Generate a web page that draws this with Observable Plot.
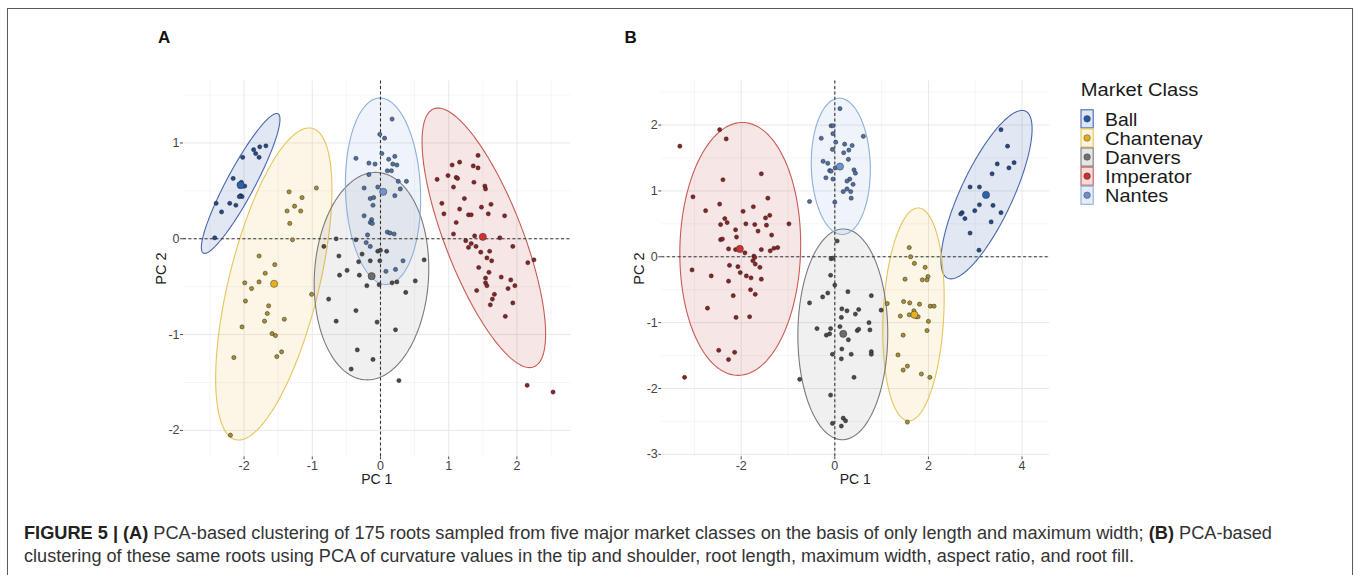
<!DOCTYPE html>
<html>
<head>
<meta charset="utf-8">
<script src="https://cdn.jsdelivr.net/npm/d3@7"></script>
<script src="https://cdn.jsdelivr.net/npm/@observablehq/plot@0.6"></script>
<style>
  html, body { margin: 0; padding: 0; background: #fff; }
  #fig { position: relative; width: 1357px; height: 575px; overflow: hidden; font-family: "Liberation Sans", Arial, sans-serif; }
  .frame { position: absolute; left: 7px; top: 8px; width: 1346px; height: 700px; border: 1.6px solid #5a5a5a; border-bottom: none; box-sizing: border-box; }
  .panel { position: absolute; top: 0; }
  .panel svg text { font-size: 12.5px !important; fill: #444 !important; }
  #overlay { position: absolute; left: 0; top: 0; }
</style>
</head>
<body>
<div id="fig">
  <div class="frame"></div>
  <div id="panelA" class="panel" style="left:100px;width:500px;height:500px"></div>
  <div id="panelB" class="panel" style="left:620px;width:450px;height:500px"></div>
  <svg id="overlay" width="1357" height="575"></svg>
</div>
<script>
// ---------------- DATA ----------------
const classes = ["Ball", "Chantenay", "Danvers", "Imperator", "Nantes"];

// Panel A (PC1 vs PC2 from length and maximum width)
const ballA = [[-1.68,0.97],[-1.77,0.96],[-1.86,0.93],[-1.83,0.89],[-1.78,0.85],[-2.02,0.85],[-2.16,0.63],[-2.07,0.57],[-2.04,0.59],[-2.02,0.55],[-1.99,0.55],[-2.05,0.45],[-2.03,0.44],[-2.07,0.44],[-2.21,0.37],[-2.12,0.35],[-2.41,0.37],[-2.33,0.28],[-2.43,0.01]];
const chantenayA = [[-1.34,0.49],[-0.94,0.53],[-1.15,0.43],[-1.26,0.34],[-1.37,0.29],[-1.17,0.29],[-1.33,0.16],[-1.29,-0.01],[-1.78,-0.18],[-1.55,-0.27],[-1.69,-0.36],[-1.78,-0.45],[-1.99,-0.46],[-1.89,-0.52],[-1.41,-0.84],[-1.98,-0.65],[-1.64,-0.70],[-1.66,-0.78],[-1.70,-0.86],[-2.03,-0.92],[-1.59,-0.99],[-1.54,-1.01],[-1.45,-1.18],[-1.52,-1.23],[-2.15,-1.24],[-1.01,-0.58],[-2.20,-2.05]];
const danversA = [[-0.65,0.00],[-0.83,-0.08],[-0.36,-0.01],[-0.27,-0.16],[-0.04,-0.13],[0.00,-0.12],[0.09,-0.13],[-0.32,-0.24],[-0.15,-0.23],[-0.01,-0.23],[0.64,-0.22],[-0.61,-0.18],[-0.49,-0.33],[-0.60,-0.38],[-0.31,-0.38],[0.17,-0.46],[0.24,-0.45],[0.51,-0.44],[-0.20,-0.49],[-0.02,-0.48],[0.37,-0.56],[-0.76,-0.63],[-0.36,-0.75],[-0.65,-0.86],[-0.05,-0.87],[0.22,-0.95],[-0.34,-1.16],[-0.11,-1.26],[-0.43,-1.36],[0.27,-1.48]];
const imperatorA = [[1.43,0.87],[1.05,0.77],[1.16,0.80],[1.36,0.76],[1.43,0.74],[0.99,0.66],[0.83,0.62],[1.11,0.64],[1.13,0.63],[1.37,0.59],[1.07,0.54],[1.53,0.55],[1.54,0.52],[1.23,0.42],[1.16,0.31],[0.90,0.37],[1.48,0.33],[1.62,0.36],[0.93,0.26],[1.29,0.25],[1.33,0.25],[1.58,0.26],[1.82,0.24],[1.11,0.17],[1.07,0.05],[1.38,0.03],[1.75,0.01],[1.25,-0.02],[1.33,-0.05],[1.29,-0.09],[1.40,-0.08],[1.94,-0.08],[1.47,-0.14],[1.60,-0.13],[1.56,-0.20],[1.63,-0.23],[2.16,-0.25],[2.25,-0.22],[1.44,-0.30],[1.59,-0.35],[1.54,-0.41],[1.77,-0.40],[1.91,-0.43],[1.97,-0.49],[1.54,-0.46],[1.56,-0.49],[1.87,-0.52],[1.41,-0.54],[1.67,-0.58],[1.64,-0.63],[1.61,-0.69],[1.94,-0.67],[1.83,-0.81],[2.15,-1.53],[2.53,-1.60]];
const nantesA = [[0.17,1.25],[-0.01,1.09],[0.06,1.05],[0.02,0.89],[0.21,0.86],[-0.36,0.84],[-0.17,0.79],[-0.08,0.78],[0.12,0.83],[0.18,0.78],[0.24,0.77],[0.10,0.71],[0.16,0.71],[-0.17,0.67],[0.26,0.60],[0.38,0.60],[-0.24,0.53],[-0.04,0.54],[0.29,0.52],[-0.15,0.42],[-0.10,0.43],[0.21,0.45],[-0.11,0.35],[-0.24,0.24],[-0.13,0.20],[-0.15,0.17],[-0.12,0.16],[0.10,0.07],[0.14,0.06],[0.20,0.05],[-0.19,0.04],[-0.21,-0.04],[-0.15,-0.08],[0.33,-0.23],[0.22,-0.32],[0.08,-0.34]];
const meansA = [[-2.05,0.56],[-1.56,-0.47],[-0.13,-0.39],[1.50,0.02],[0.04,0.49]];
// ellipse: centre, first half-axis, second half-axis (data units), order = classes
const ellCentreA = [[-2.05,0.578],[-1.564,-0.472],[-0.132,-0.39],[1.515,0.01],[0.037,0.496]];
const ellAxis1A  = [[0.547,0.727],[0.562,1.625],[0.0,1.08],[-0.733,1.347],[-0.044,0.973]];
const ellAxis2A  = [[0.181,-0.069],[0.641,-0.113],[0.84,0.08],[0.532,0.146],[0.55,0.0]];

// Panel B (PCA of curvature, length, width, aspect ratio, fill)
const ballB = [[3.55,1.93],[3.69,1.68],[3.83,1.43],[3.47,1.41],[3.72,1.35],[3.36,1.26],[3.09,1.06],[2.89,1.06],[3.09,0.79],[3.38,0.78],[2.99,0.70],[2.72,0.67],[2.69,0.65],[2.78,0.58],[3.55,0.67],[3.34,0.53],[2.89,0.36],[3.08,0.10]];
const chantenayB = [[1.59,0.14],[1.62,0.00],[1.70,-0.10],[1.93,-0.16],[1.99,-0.30],[1.97,-0.35],[1.87,-0.35],[1.50,-0.34],[1.12,-0.71],[1.47,-0.68],[1.60,-0.70],[1.81,-0.72],[2.04,-0.75],[2.12,-0.75],[1.40,-0.90],[1.59,-0.88],[1.69,-0.82],[1.74,-0.91],[1.78,-0.91],[2.00,-0.98],[1.46,-1.19],[1.97,-1.12],[1.35,-1.49],[1.55,-1.66],[1.46,-1.72],[1.85,-1.78],[2.03,-1.83],[1.55,-2.51]];
const danversB = [[0.05,0.24],[-0.08,-0.03],[-0.04,-0.02],[-0.09,-0.28],[0.00,-0.43],[0.28,-0.53],[-0.54,-0.70],[-0.26,-0.61],[-0.15,-0.55],[0.78,-0.59],[0.15,-0.79],[0.26,-0.82],[0.51,-0.80],[0.44,-0.87],[0.99,-0.81],[0.14,-0.92],[0.73,-1.00],[-0.38,-1.09],[-0.18,-1.19],[-0.11,-1.17],[-0.09,-1.09],[0.11,-1.06],[0.29,-1.26],[0.48,-1.12],[0.51,-1.10],[0.75,-1.11],[-0.05,-1.48],[0.15,-1.40],[0.14,-1.55],[0.35,-1.48],[0.78,-1.44],[0.78,-1.48],[0.41,-1.83],[-0.75,-1.86],[-0.09,-2.10],[-0.05,-2.53],[0.18,-2.45],[0.23,-2.49],[0.14,-2.57]];
const imperatorB = [[-2.46,1.93],[-2.32,1.79],[-3.31,1.68],[-1.57,1.26],[-2.39,1.17],[-3.03,0.91],[-1.43,0.89],[-2.76,0.70],[-2.46,0.80],[-1.74,0.76],[-1.96,0.69],[-1.39,0.63],[-1.48,0.59],[-2.35,0.58],[-2.30,0.52],[-2.12,0.41],[-2.44,0.49],[-1.90,0.50],[-1.71,0.49],[-1.64,0.39],[-1.46,0.48],[-0.98,0.50],[-1.35,0.33],[-2.44,0.26],[-2.40,0.27],[-2.10,0.30],[-2.27,0.12],[-2.12,0.11],[-1.92,0.06],[-1.73,0.01],[-1.71,-0.01],[-1.57,0.11],[-1.38,0.09],[-1.30,0.13],[-1.22,0.14],[-1.75,-0.06],[-1.70,-0.11],[-3.05,-0.20],[-2.64,-0.29],[-2.25,-0.13],[-2.07,-0.15],[-2.02,-0.24],[-1.89,-0.29],[-1.79,-0.32],[-1.57,-0.34],[-1.60,-0.16],[-2.27,-0.37],[-1.80,-0.50],[-1.70,-0.57],[-2.17,-0.59],[-2.72,-0.78],[-2.11,-0.92],[-1.82,-0.91],[-2.48,-1.42],[-2.14,-1.45],[-2.27,-1.56],[-3.21,-1.83]];
const nantesB = [[0.11,2.25],[-0.08,1.99],[-0.04,1.99],[-0.04,1.87],[-0.29,1.80],[0.02,1.74],[0.61,1.83],[0.21,1.71],[0.37,1.69],[0.30,1.62],[-0.05,1.63],[0.19,1.58],[-0.25,1.45],[-0.15,1.42],[0.29,1.48],[-0.11,1.31],[-0.08,1.30],[0.41,1.32],[0.44,1.27],[0.01,1.35],[-0.19,1.20],[-0.04,1.18],[0.32,1.18],[0.26,1.15],[0.39,1.10],[0.18,0.99],[0.26,1.03],[0.34,0.99],[0.35,0.89],[0.00,0.83],[-0.54,0.84]];
const meansB = [[3.23,0.94],[1.70,-0.88],[0.18,-1.17],[-2.03,0.12],[0.11,1.37]];
const ellCentreB = [[3.241,0.944],[1.681,-0.874],[0.171,-1.177],[-2.02,0.12],[0.128,1.374]];
const ellAxis1B  = [[0.833,1.268],[0.1,1.616],[0.01,1.6],[0.046,1.92],[-0.03,1.035]];
const ellAxis2B  = [[0.504,-0.167],[0.648,0.0],[0.96,0.0],[1.29,0.0],[0.63,0.0]];

// axes
const xTicksA = [-2, -1, 0, 1, 2];
const xMinorA = [-2.5, -1.5, -0.5, 0.5, 1.5, 2.5];
const yTicksA = [-2, -1, 0, 1];
const yMinorA = [-1.5, -0.5, 0.5, 1.5];
const xDomainA = [-2.888, 2.79];
const yDomainA = [-2.276, 1.646];
const xTicksB = [-2, 0, 2, 4];
const xMinorB = [-3, -1, 1, 3];
const yTicksB = [-3, -2, -1, 0, 1, 2];
const yMinorB = [-2.5, -1.5, -0.5, 0.5, 1.5, 2.5];
const xDomainB = [-3.696, 4.593];
const yDomainB = [-3.037, 2.668];
const zeroLine = [0];

const panelLabels = ["A", "B"];
const axisTitleX = "PC 1", axisTitleY = "PC 2";
const legendTitle = "Market Class";
const captionBold1 = "FIGURE 5 | (A)";
const captionText1 = " PCA-based clustering of 175 roots sampled from five major market classes on the basis of only length and maximum width; ";
const captionBold2 = "(B)";
const captionText3 = " PCA-based";
const captionLine2 = "clustering of these same roots using PCA of curvature values in the tip and shoulder, root length, maximum width, aspect ratio, and root fill.";

// ---------------- STYLE ----------------
const ptFill   = ["#23498c", "#a88f30", "#4a4a4a", "#8a2323", "#4f70a6"];
const meanFill = ["#2a62b8", "#e8b020", "#6c6c6c", "#d03030", "#6f95d0"];
const keyDot   = ["#1f5aa8", "#e3a91f", "#707070", "#c9302f", "#6f8fc8"];
const ellStroke = ["#4a68b0", "#e9c35a", "#7a7a7a", "#c75b55", "#8eaedd"];
const ellFill   = ["#3a62b0", "#e8b830", "#888888", "#c04040", "#7a9ed6"];
const ellFillOp = [0.15, 0.12, 0.13, 0.13, 0.12];
const keyFill   = ["#dfe6f3", "#fcf3dc", "#e6e6e6", "#f3dcdc", "#e6edf8"];

function ellipse(c, a, b) {
  return d3.range(0, 181).map(i => {
    const t = (i / 180) * 2 * Math.PI;
    return {x: c[0] + a[0] * Math.cos(t) + b[0] * Math.sin(t),
            y: c[1] + a[1] * Math.cos(t) + b[1] * Math.sin(t)};
  });
}
const toRows = arr => arr.map(([x, y]) => ({x, y}));

function panel(cfg) {
  const marks = [
    Plot.ruleX(cfg.xMinor, {stroke: "#f3f3f3", strokeWidth: 0.8}),
    Plot.ruleY(cfg.yMinor, {stroke: "#f3f3f3", strokeWidth: 0.8}),
    Plot.ruleX(cfg.xTicks, {stroke: "#e8e8e8", strokeWidth: 1}),
    Plot.ruleY(cfg.yTicks, {stroke: "#e8e8e8", strokeWidth: 1})
  ];
  classes.forEach((c, i) => {
    marks.push(Plot.line(ellipse(cfg.centres[i], cfg.axis1[i], cfg.axis2[i]),
      {x: "x", y: "y", fill: ellFill[i], fillOpacity: ellFillOp[i], stroke: ellStroke[i], strokeWidth: 1.1, curve: "linear"}));
  });
  marks.push(Plot.ruleX(zeroLine, {stroke: "#333", strokeWidth: 1.1, strokeDasharray: "3,2.4"}));
  marks.push(Plot.ruleY(zeroLine, {stroke: "#333", strokeWidth: 1.1, strokeDasharray: "3,2.4"}));
  classes.forEach((c, i) => {
    marks.push(Plot.dot(toRows(cfg.points[i]), {x: "x", y: "y", r: 2.1, fill: ptFill[i], stroke: "#1a1a1a", strokeWidth: 0.45}));
  });
  classes.forEach((c, i) => {
    marks.push(Plot.dot(toRows([cfg.means[i]]), {x: "x", y: "y", r: 3.6, fill: meanFill[i], stroke: "#333", strokeWidth: 0.5}));
  });
  return Plot.plot({
    width: cfg.width, height: 500,
    marginLeft: cfg.ml, marginRight: cfg.mr, marginTop: 80.6, marginBottom: 43.7,
    x: {domain: cfg.xDomain, ticks: cfg.xTicks, tickSize: 3, tickPadding: 1, tickFormat: d => String(d), label: null},
    y: {domain: cfg.yDomain, ticks: cfg.yTicks, tickSize: 3, tickPadding: 1, tickFormat: d => String(d), label: null},
    style: {fontFamily: "'Liberation Sans', Arial, sans-serif", fontSize: "12.5px", color: "#4d4d4d", background: "transparent", overflow: "visible"},
    marks
  });
}

document.getElementById("panelA").appendChild(panel({
  width: 500, ml: 83, mr: 29.7, xDomain: xDomainA, yDomain: yDomainA,
  xTicks: xTicksA, yTicks: yTicksA, xMinor: xMinorA, yMinor: yMinorA,
  points: [ballA, chantenayA, danversA, imperatorA, nantesA], means: meansA,
  centres: ellCentreA, axis1: ellAxis1A, axis2: ellAxis2A
}));
document.getElementById("panelB").appendChild(panel({
  width: 450, ml: 41.3, mr: 20.7, xDomain: xDomainB, yDomain: yDomainB,
  xTicks: xTicksB, yTicks: yTicksB, xMinor: xMinorB, yMinor: yMinorB,
  points: [ballB, chantenayB, danversB, imperatorB, nantesB], means: meansB,
  centres: ellCentreB, axis1: ellAxis1B, axis2: ellAxis2B
}));

// ---------------- OVERLAY TEXT ----------------
const svg = d3.select("#overlay").style("font-family", "'Liberation Sans', Arial, sans-serif");
// panel letters
svg.append("text").attr("x", 158).attr("y", 42.7).attr("font-size", 17).attr("font-weight", "bold").attr("fill", "#111").text(panelLabels[0]);
svg.append("text").attr("x", 624.5).attr("y", 42.7).attr("font-size", 17).attr("font-weight", "bold").attr("fill", "#111").text(panelLabels[1]);
// axis titles
[[376.7, 160.8], [855.3, 639]].forEach(([cx, ty]) => {
  svg.append("text").attr("x", cx).attr("y", 484).attr("text-anchor", "middle").attr("font-size", 14).attr("fill", "#222").text(axisTitleX);
  svg.append("text").attr("transform", `translate(${ty + 5},268.5) rotate(-90)`).attr("text-anchor", "middle").attr("font-size", 14.5).attr("fill", "#222").text(axisTitleY);
});
// legend
svg.append("text").attr("x", 1080.7).attr("y", 96).attr("font-size", 17.5).attr("fill", "#1a1a1a")
  .attr("textLength", 117.7).attr("lengthAdjust", "spacingAndGlyphs").text(legendTitle);
const labelWidths = [32.3, 97.7, 75.7, 86.7, 63.3];
classes.forEach((c, i) => {
  const y0 = 109.3 + i * 19.1;
  svg.append("rect").attr("x", 1081).attr("y", y0 + 0.5).attr("width", 12.2).attr("height", 18.1)
    .attr("fill", keyFill[i]).attr("stroke", ellStroke[i]).attr("stroke-width", 1.1);
  svg.append("circle").attr("cx", 1087.1).attr("cy", y0 + 9.55).attr("r", 3.3).attr("fill", keyDot[i]).attr("stroke", "#333").attr("stroke-width", 0.4);
  svg.append("text").attr("x", 1105).attr("y", y0 + 16.7).attr("font-size", 17.8).attr("fill", "#1a1a1a")
    .attr("textLength", labelWidths[i]).attr("lengthAdjust", "spacingAndGlyphs").text(c);
});
// caption
const cap1 = svg.append("text").attr("x", 24).attr("y", 538.5).attr("font-size", 17.5).attr("fill", "#333")
  .attr("textLength", 1248).attr("lengthAdjust", "spacingAndGlyphs");
cap1.append("tspan").attr("font-weight", "bold").attr("fill", "#222").text(captionBold1);
cap1.append("tspan").text(captionText1);
cap1.append("tspan").attr("font-weight", "bold").attr("fill", "#222").text(captionBold2);
cap1.append("tspan").text(captionText3);
svg.append("text").attr("x", 24).attr("y", 562).attr("font-size", 17.5).attr("fill", "#333")
  .attr("textLength", 1110).attr("lengthAdjust", "spacingAndGlyphs").text(captionLine2);
</script>
</body>
</html>
